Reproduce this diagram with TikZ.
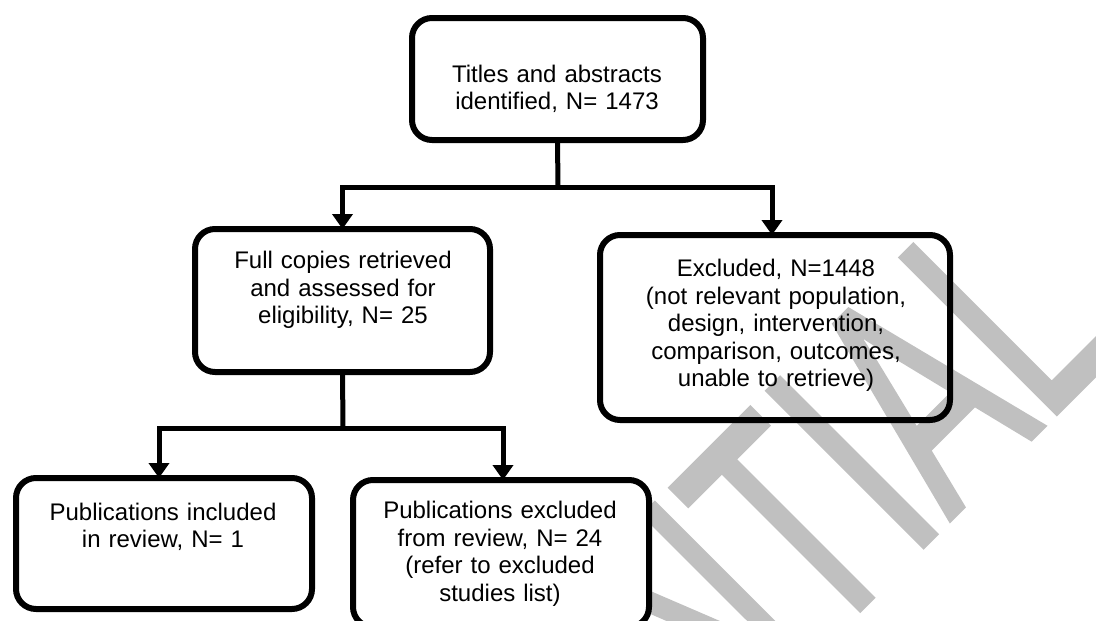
\documentclass[tikz,border=0pt]{standalone}
\usepackage{fontspec}
\setmainfont{Liberation Sans}
\newfontfamily\wmfont[FakeBold=1.5]{Liberation Sans}
\usetikzlibrary{arrows.meta}
\definecolor{wmgray}{RGB}{192,192,192}

\begin{document}
\begin{tikzpicture}[x=1pt,y=-1pt,
  box/.style={draw=black, line width=6pt, rounded corners=20pt, outer sep=0pt, inner sep=0pt},
  boxtext/.style={align=center, text width=340pt, inner sep=0pt, anchor=base,
                  font=\fontsize{24}{27.5}\selectfont},
  link/.style={line width=5pt},
  arrowlink/.style={line width=5pt, -{Triangle[width=20pt,length=15pt]}},
]
\path[use as bounding box, clip] (0,0) rectangle (1096,621);

% background watermark
\node[rotate=45, anchor=base east, inner sep=0pt, text=wmgray,
      font=\wmfont\fontsize{320}{320}\selectfont] (wm) at (1124,346)
      {\scalebox{0.63}[1]{CONFIDENTIAL}};

% boxes
\node[box, minimum width=291pt, minimum height=122pt] (top)  at (557.5,79)   {};
\node[box, minimum width=295pt, minimum height=143pt] (full) at (342.5,300.5) {};
\node[box, minimum width=350pt, minimum height=185pt] (excl) at (775,327.5)   {};
\node[box, minimum width=296pt, minimum height=131pt] (incl) at (164,543.5)   {};
\node[box, fill=white, minimum width=296pt, minimum height=147pt] (pubx) at (501,553.5) {};

% box texts
\node[boxtext] (toptxt)  at (557,82)    {Titles and abstracts\\identified, N= 1473};
\node[boxtext] (fulltxt) at (343,268.5) {Full copies retrieved\\and assessed for\\eligibility, N= 25};
\node[boxtext] (excltxt) at (776,276.5) {Excluded, N=1448\\(not relevant population,\\design, intervention,\\comparison, outcomes,\\unable to retrieve)};
\node[boxtext] (incltxt) at (163,520)   {Publications included\\in review, N= 1};
\node[boxtext] (pubxtxt) at (500,518.5) {Publications excluded\\from review, N= 24\\(refer to excluded\\studies list)};

% connectors
\coordinate (s1) at (558,187);
\draw[link] (top.south) -- (s1);
\draw[arrowlink] (s1) -| (full.north);
\draw[arrowlink] (s1) -| ([xshift=-3pt]excl.north);

\coordinate (s2) at (343,428);
\draw[link] (full.south) -- (s2);
\draw[arrowlink] (s2) -| ([xshift=-5pt]incl.north);
\draw[arrowlink] (s2) -| ([xshift=2pt]pubx.north);
\end{tikzpicture}
\end{document}
